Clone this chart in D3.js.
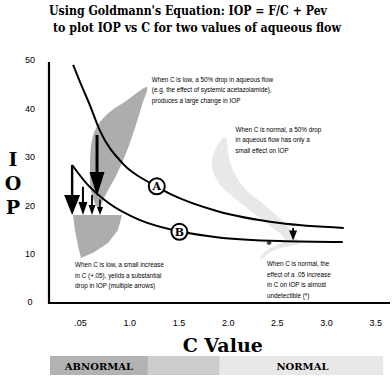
<!DOCTYPE html>
<html lang="en">
<head>
  <meta charset="UTF-8">
  <title>Goldmann IOP vs C</title>
  <style>
    body { margin: 0; background: #fff; }
    .serif { font-family: "DejaVu Serif", "Liberation Serif", serif; font-weight: bold; }
    .note, .tick text { font-family: "Liberation Sans", "DejaVu Sans", sans-serif; }
  </style>
</head>
<body>
  <script src="https://cdn.jsdelivr.net/npm/d3@7"></script>
  <script>
    // C value ticks, and the odd ".05" label as printed
    const cTicks = [0.5, 1.0, 1.5, 2.0, 2.5, 3.0, 3.5];
    const cLabels = ['.05', '1.0', '1.5', '2.0', '2.5', '3.0', '3.5'];
    const iopTicks = [0, 10, 20, 30, 40, 50];

    // curves (C, IOP)
    const curveA_C = [0.43, 0.52, 0.60, 0.70, 0.94, 1.21, 1.42, 1.89, 2.53, 3.18];
    const curveA_IOP = [49.0, 44.5, 40.7, 35.5, 28.5, 24.6, 22.3, 18.8, 16.3, 15.3];
    const curveB_C = [0.42, 0.57, 0.78, 1.11, 1.53, 1.89, 2.53, 3.17];
    const curveB_IOP = [28.3, 24.4, 20.6, 16.9, 14.5, 13.4, 12.6, 12.4];

    // circle labels on the curves
    const labelNames = ['A', 'B'];
    const labelC = [1.28, 1.51];
    const labelIOP = [23.9, 14.5];

    // arrows: C position, start IOP, tip IOP
    const arrowC = [0.673, 0.42, 0.53, 0.622, 0.703, 2.665];
    const arrowFrom = [34.5, 28.3, 23.8, 22.1, 21.2, 15.3];
    const arrowTo = [21.9, 18.0, 18.0, 18.0, 18.0, 12.7];

    // shaded swooshes (C, IOP outlines)
    const upperShade = [[0.683, 19.6], [0.612, 23.1], [0.602, 28.3], [0.622, 33.5], [0.683, 36.6], [0.805, 39.3], [0.978, 41.7],
      [1.181, 44.4], [1.130, 40.7], [1.069, 36.6], [0.988, 31.8], [0.886, 26.9], [0.774, 22.7]];
    const lowerShade = [[0.429, 18.0], [0.683, 18.0], [0.927, 18.0], [0.886, 14.9], [0.785, 12.2], [0.642, 10.3],
      [0.510, 9.1], [0.480, 11.6], [0.449, 14.9]];
    const normalShade = [[1.975, 34.1], [1.863, 31.0], [1.843, 27.7], [1.924, 24.2], [2.128, 20.5], [2.382, 16.5], [2.585, 12.8],
      [2.484, 11.6], [2.372, 10.3], [2.331, 8.7], [2.433, 10.3], [2.585, 11.4], [2.738, 12.2], [2.687, 13.4], [2.616, 15.5],
      [2.402, 19.6], [2.158, 23.8], [2.026, 28.7]];

    // bottom band
    const bandNames = ['ABNORMAL', '', 'NORMAL'];
    const bandStart = [0.195, 1.19, 1.92];
    const bandEnd = [1.19, 1.92, 3.58];

    const notes = [
      {c: 1.23, iop: 45.5, lines: ['When C is low, a 50% drop in aqueous flow', '(e.g. the effect of systemic acetazolamide),', 'produces a large change in IOP']},
      {c: 2.08, iop: 35.2, lines: ['When C is normal, a 50% drop', 'in aqueous flow has only a', 'small effect on IOP']},
      {c: 2.40, iop: 7.4, lines: ['When C is normal, the', 'effect of a .05 increase', 'in C on IOP is almost', 'undetectible (*)']},
      {c: 0.45, iop: 7.2, lines: ['When C is low, a small increase', 'in C (+.05), yeilds a substantial', 'drop in IOP  (multiple arrows)']}
    ];

    function goldmannChart() {
      const _chart = {};
      const _width = 392, _height = 377;
      const x = d3.scaleLinear().domain([0.185, 3.67]).range([49, 392]);
      const y = d3.scaleLinear().domain([0, 50]).range([302, 60]);
      let _svg;

      _chart.render = function () {
        _svg = d3.select('body').append('svg')
          .attr('width', _width)
          .attr('height', _height);
        renderTitle();
        renderShades();
        renderAxes();
        renderCurves();
        renderArrows();
        renderNotes();
        renderBand();
      };

      function renderTitle() {
        const t = _svg.append('g').attr('class', 'serif').style('font-size', '12px');
        t.append('text').attr('x', 49).attr('y', 15)
          .attr('textLength', 278).attr('lengthAdjust', 'spacingAndGlyphs')
          .text("Using Goldmann's Equation: IOP = F/C + Pev");
        t.append('text').attr('x', 53).attr('y', 32)
          .attr('textLength', 288).attr('lengthAdjust', 'spacingAndGlyphs')
          .text('to plot IOP vs C for two values of aqueous flow');
      }

      function renderShades() {
        const smooth = d3.line().x(d => x(d[0])).y(d => y(d[1])).curve(d3.curveCatmullRomClosed.alpha(0.5));
        _svg.append('path').attr('d', smooth(normalShade)).attr('fill', '#e8e8e8');
        _svg.append('path').attr('d', smooth(upperShade)).attr('fill', '#adadad');
        const poly = d3.line().x(d => x(d[0])).y(d => y(d[1])).curve(d3.curveLinearClosed);
        _svg.append('path').attr('d', poly(lowerShade)).attr('fill', '#adadad');
      }

      function renderAxes() {
        const yAxis = _svg.append('g')
          .attr('transform', 'translate(49,0)')
          .call(d3.axisLeft(y).tickValues(iopTicks).tickSize(0).tickPadding(14));
        yAxis.select('.domain').remove();
        yAxis.selectAll('text').style('font-size', '9px').attr('text-anchor', 'middle').attr('x', -19);

        const xAxis = _svg.append('g')
          .attr('transform', 'translate(0,303)')
          .call(d3.axisBottom(x).tickValues(cTicks).tickSize(0).tickPadding(17)
            .tickFormat((d, i) => cLabels[i]));
        xAxis.select('.domain').remove();
        xAxis.selectAll('text').style('font-size', '9px');

        _svg.append('path')
          .attr('d', `M${x.range()[0]},${y(49.6)}V${y(0) + 1}H${x.range()[1] - 2}`)
          .attr('fill', 'none').attr('stroke', '#000').attr('stroke-width', 2.2);

        _svg.append('g').attr('class', 'serif').style('font-size', '19px')
          .selectAll('text').data(['I', 'O', 'P']).enter().append('text')
          .attr('x', 13).attr('y', (d, i) => 166 + i * 24)
          .attr('text-anchor', 'middle').text(d => d);

        _svg.append('text').attr('class', 'serif').style('font-size', '19px')
          .attr('x', x(1.95)).attr('y', 352).attr('text-anchor', 'middle').text('C Value');
      }

      function renderCurves() {
        const line = d3.line().x(d => x(d[0])).y(d => y(d[1])).curve(d3.curveMonotoneX);
        const curves = [d3.zip(curveA_C, curveA_IOP), d3.zip(curveB_C, curveB_IOP)];
        _svg.selectAll('path.curve').data(curves).enter().append('path')
          .attr('class', 'curve')
          .attr('d', line)
          .attr('fill', 'none').attr('stroke', '#000').attr('stroke-width', 2);

        const lbl = _svg.selectAll('g.lbl').data(labelNames).enter().append('g')
          .attr('class', 'lbl')
          .attr('transform', (d, i) => `translate(${x(labelC[i])},${y(labelIOP[i])})`);
        lbl.append('circle').attr('r', 8).attr('fill', '#fff').attr('stroke', '#000').attr('stroke-width', 2);
        lbl.append('text').attr('class', 'serif').attr('text-anchor', 'middle').attr('dy', '0.36em')
          .style('font-size', '11px').text(d => d);

        // the (*) mark under curve B
        _svg.append('text').attr('x', x(2.42)).attr('y', y(11.2))
          .attr('text-anchor', 'middle').style('font-size', '11px').style('font-weight', 'bold').text('*');
      }

      function renderArrows() {
        const headW = [15, 16, 9, 7, 6, 8];
        const headL = [24, 20, 13, 10, 8, 10];
        const strokeW = [3, 2.4, 2, 1.8, 1.6, 1.8];
        arrowC.forEach((c, i) => {
          const ax = x(c), y0 = y(arrowFrom[i]), y1 = y(arrowTo[i]);
          _svg.append('line').attr('x1', ax).attr('x2', ax)
            .attr('y1', y0).attr('y2', y1 - headL[i] + 2)
            .attr('stroke', '#000').attr('stroke-width', strokeW[i]);
          _svg.append('path')
            .attr('d', `M${ax - headW[i] / 2},${y1 - headL[i]}L${ax + headW[i] / 2},${y1 - headL[i]}L${ax},${y1}Z`)
            .attr('fill', '#000');
        });
      }

      function renderNotes() {
        const g = _svg.selectAll('text.note').data(notes).enter().append('text')
          .attr('class', 'note')
          .style('font-size', '8px')
          .attr('transform', d => `translate(${x(d.c)},${y(d.iop)}) scale(0.79,1)`);
        g.selectAll('tspan').data(d => d.lines).enter().append('tspan')
          .attr('x', 0).attr('y', (d, i) => i * 10.5).text(d => d);
      }

      function renderBand() {
        const fills = ['#b2b2b2', '#cdcdcd', '#e8e8e8'];
        const band = _svg.selectAll('g.band').data(bandNames).enter().append('g').attr('class', 'band');
        band.append('rect')
          .attr('x', (d, i) => x(bandStart[i]))
          .attr('width', (d, i) => x(bandEnd[i]) - x(bandStart[i]))
          .attr('y', 356).attr('height', 19)
          .attr('fill', (d, i) => fills[i]);
        band.append('text').attr('class', 'serif')
          .attr('x', (d, i) => i === 2 ? x(2.76) : (x(bandStart[i]) + x(bandEnd[i])) / 2)
          .attr('y', 370).attr('text-anchor', 'middle').style('font-size', '10px')
          .text(d => d);
      }

      return _chart;
    }

    goldmannChart().render();
  </script>
</body>
</html>
